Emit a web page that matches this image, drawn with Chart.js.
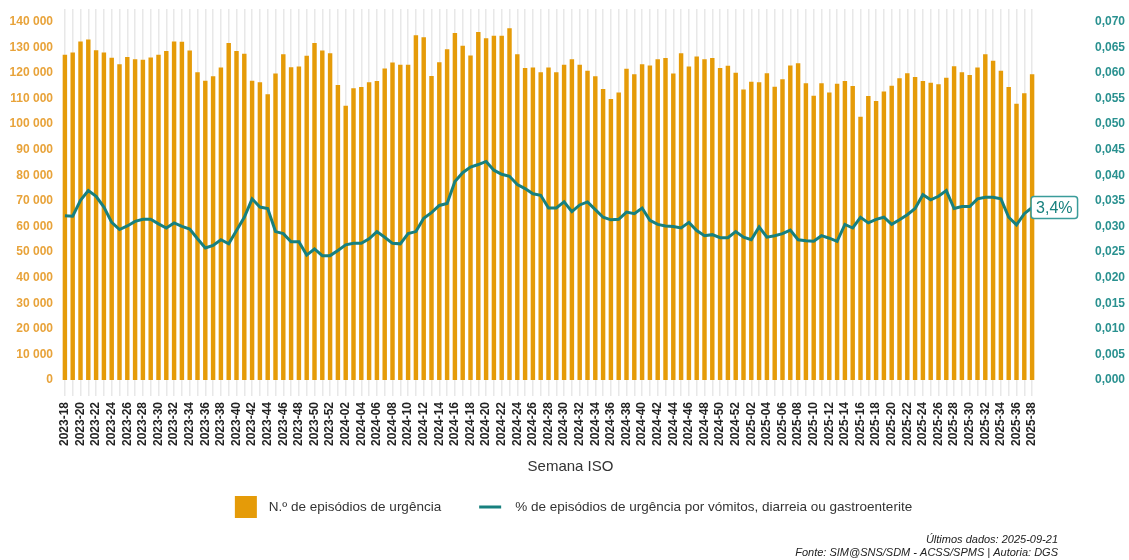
<!DOCTYPE html>
<html>
<head>
<meta charset="utf-8">
<script src="https://cdn.jsdelivr.net/npm/chart.js@4/dist/chart.umd.min.js"></script>
<style>
  body { margin: 0; background: #fff; overflow: hidden; }
  #wrap { width: 1129px; height: 560px; position: relative; }
</style>
</head>
<body>
<div id="wrap"><canvas id="chart"></canvas></div>
<script>
// semanas ISO: 2023-18 ... 2025-38
var startYear = 2023, startWeek = 18;
var weeksInYear = { 2023: 52, 2024: 52, 2025: 52 };
var endYear = 2025, endWeek = 38;

var semanas = [];
var y = startYear, w = startWeek;
while (y < endYear || (y === endYear && w <= endWeek)) {
  semanas.push(y + '-' + (w < 10 ? '0' + w : w));
  w++;
  if (w > weeksInYear[y]) { w = 1; y++; }
}

// N.º de episódios de urgência
var episodios = [
  127100, 128000, 132300, 133100, 128900, 128000, 125900, 123400, 126200, 125400,
  125200, 126000, 127100, 128600, 132300, 132200, 128800, 120300, 117000, 118700,
  122100, 131700, 128600, 127500, 117000, 116400, 111700, 119800, 127300, 122200,
  122500, 126700, 131700, 128800, 127700, 115300, 107200, 114000, 114500, 116400,
  116900, 121700, 124100, 123200, 123200, 134700, 134000, 118800, 124200, 129300,
  135600, 130600, 126800, 136000, 133600, 134500, 134500, 137500, 127300, 121900,
  122100, 120300, 122100, 120300, 123200, 125400, 123200, 120900, 118700, 113700,
  109800, 112400, 121600, 119500, 123400, 122900, 125400, 125800, 119800, 127700,
  122500, 126400, 125400, 125800, 121900, 122800, 120100, 113500, 116600, 116400,
  119900, 114600, 117500, 122900, 123800, 116000, 111100, 116000, 112400, 115800,
  116900, 114900, 102900, 111000, 109000, 112800, 115000, 117900, 119900, 118400,
  116900, 116200, 115600, 118100, 122600, 120300, 119200, 122100, 127300, 124800,
  120900, 114500, 108000, 112100, 119500
];

// % de episódios por vómitos, diarreia ou gastroenterite
var percentagem = [
  0.0321, 0.0320, 0.0351, 0.0370, 0.0359, 0.0338, 0.0308, 0.0294, 0.0301, 0.0310,
  0.0314, 0.0314, 0.0305, 0.0297, 0.0307, 0.0300, 0.0295, 0.0276, 0.0258, 0.0263,
  0.0274, 0.0266, 0.0292, 0.0318, 0.0354, 0.0338, 0.0335, 0.0290, 0.0286, 0.0270,
  0.0270, 0.0244, 0.0256, 0.0243, 0.0243, 0.0253, 0.0264, 0.0267, 0.0267, 0.0276,
  0.0290, 0.0279, 0.0267, 0.0266, 0.0286, 0.0290, 0.0316, 0.0327, 0.0341, 0.0345,
  0.0388, 0.0405, 0.0416, 0.0421, 0.0427, 0.0410, 0.0402, 0.0398, 0.0382, 0.0374,
  0.0364, 0.0361, 0.0336, 0.0336, 0.0348, 0.0329, 0.0342, 0.0348, 0.0333, 0.0318,
  0.0313, 0.0314, 0.0328, 0.0325, 0.0336, 0.0312, 0.0304, 0.0301, 0.0300, 0.0297,
  0.0308, 0.0292, 0.0282, 0.0284, 0.0278, 0.0278, 0.0290, 0.0279, 0.0274, 0.0299,
  0.0279, 0.0282, 0.0286, 0.0293, 0.0274, 0.0272, 0.0271, 0.0282, 0.0277, 0.0271,
  0.0304, 0.0297, 0.0318, 0.0307, 0.0314, 0.0318, 0.0304, 0.0313, 0.0323, 0.0335,
  0.0362, 0.0352, 0.0359, 0.0370, 0.0335, 0.0339, 0.0339, 0.0354, 0.0357, 0.0357,
  0.0354, 0.0318, 0.0303, 0.0325, 0.0337
];

var leftTicks = [0, 10000, 20000, 30000, 40000, 50000, 60000, 70000, 80000, 90000, 100000, 110000, 120000, 130000, 140000];
var rightTicks = [0, 0.005, 0.01, 0.015, 0.02, 0.025, 0.03, 0.035, 0.04, 0.045, 0.05, 0.055, 0.06, 0.065, 0.07];

var laranja = '#e59b08';
var verde = '#17807e';
var fonte = '"Liberation Sans", Arial, sans-serif';

Chart.defaults.font.family = fonte;

// título do eixo, legenda, rodapé e etiqueta do último valor
var extras = {
  id: 'extras',
  afterDatasetsDraw: function(chart) {
    var ctx = chart.ctx;
    var meta = chart.getDatasetMeta(0);
    var last = meta.data[meta.data.length - 1];
    var v = percentagem[percentagem.length - 1];
    var txt = (v * 100).toFixed(1).replace('.', ',') + '%';
    ctx.save();
    ctx.font = '16px ' + fonte;
    var tw = ctx.measureText(txt).width;
    var bx = last.x - 1, bw = tw + 10, bh = 22, by = last.y - bh / 2;
    ctx.beginPath();
    ctx.roundRect(bx, by, bw, bh, 3);
    ctx.fillStyle = '#fff';
    ctx.fill();
    ctx.lineWidth = 1.5;
    ctx.strokeStyle = '#3a9c9a';
    ctx.stroke();
    ctx.fillStyle = verde;
    ctx.textBaseline = 'middle';
    ctx.fillText(txt, bx + 5, by + bh / 2 + 1);
    ctx.restore();
  },
  afterDraw: function(chart) {
    var ctx = chart.ctx;
    var ds = chart.data.datasets;
    var meio = chart.width / 2 + 6;
    ctx.save();
    ctx.textBaseline = 'middle';

    ctx.font = '15px ' + fonte;
    ctx.fillStyle = '#333';
    ctx.textAlign = 'center';
    ctx.fillText('Semana ISO', meio, 467);

    ctx.textAlign = 'left';
    ctx.font = '13.5px ' + fonte;
    var t1 = ds[1].label, t2 = ds[0].label;
    var w1 = ctx.measureText(t1).width, w2 = ctx.measureText(t2).width;
    var total = 22 + 12 + w1 + 38 + 22 + 14 + w2;
    var x0 = meio + 3 - total / 2;
    var ly = 507;
    ctx.fillStyle = laranja;
    ctx.fillRect(x0, ly - 11, 22, 22);
    ctx.fillStyle = '#333';
    ctx.fillText(t1, x0 + 34, ly);
    var x1 = x0 + 34 + w1 + 38;
    ctx.strokeStyle = verde;
    ctx.lineWidth = 3;
    ctx.beginPath();
    ctx.moveTo(x1, ly);
    ctx.lineTo(x1 + 22, ly);
    ctx.stroke();
    ctx.fillText(t2, x1 + 36, ly);

    ctx.font = 'italic 11px ' + fonte;
    ctx.textAlign = 'right';
    ctx.fillStyle = '#222';
    ctx.fillText('Últimos dados: 2025-09-21', 1058, 540);
    ctx.fillText('Fonte: SIM@SNS/SDM - ACSS/SPMS | Autoria: DGS', 1058, 553);
    ctx.restore();
  }
};

var ctx = document.getElementById('chart');

var chart = new Chart(ctx, {
  data: {
    labels: semanas,
    datasets: [
      {
        type: 'line',
        label: '% de episódios de urgência por vómitos, diarreia ou gastroenterite',
        data: percentagem,
        yAxisID: 'y1',
        borderColor: verde,
        backgroundColor: verde,
        borderWidth: 3,
        pointRadius: 0,
        tension: 0,
        fill: false
      },
      {
        type: 'bar',
        label: 'N.º de episódios de urgência',
        data: episodios,
        yAxisID: 'y',
        backgroundColor: laranja,
        barPercentage: 0.57,
        categoryPercentage: 1
      }
    ]
  },
  options: {
    responsive: true,
    maintainAspectRatio: false,
    animation: false,
    layout: { padding: { top: 9, left: 4, right: 2, bottom: 108 } },
    plugins: {
      legend: { display: false },
      tooltip: { enabled: false }
    },
    scales: {
      x: {
        offset: true,
        grid: { offset: false, color: '#e8e8e8', lineWidth: 1.5, tickLength: 16, tickColor: '#e8e8e8' },
        border: { display: false },
        afterFit: function(s) { s.paddingLeft = 0; s.paddingRight = 0; },
        ticks: {
          autoSkip: false,
          maxRotation: 90,
          minRotation: 90,
          padding: 6,
          color: '#222',
          font: { size: 12, weight: 'bold' },
          callback: function(val, i) { return i % 2 === 0 ? semanas[i] : ''; }
        }
      },
      y: {
        position: 'left',
        min: 0,
        max: 145000,
        grid: { display: false, drawTicks: false },
        border: { display: false },
        afterBuildTicks: function(s) { s.ticks = leftTicks.map(function(v) { return { value: v }; }); },
        afterFit: function(s) { s.paddingTop = 0; s.paddingBottom = 0; s.width = 57; },
        ticks: {
          padding: 8,
          color: '#e8a33a',
          font: { size: 12, weight: 'bold' },
          callback: function(v) { return String(v).replace(/\B(?=(\d{3})+(?!\d))/g, ' '); }
        }
      },
      y1: {
        position: 'right',
        min: 0,
        max: 0.0725,
        grid: { display: false, drawTicks: false },
        border: { display: false },
        afterBuildTicks: function(s) { s.ticks = rightTicks.map(function(v) { return { value: v }; }); },
        afterFit: function(s) { s.paddingTop = 0; s.paddingBottom = 0; s.width = 91; },
        ticks: {
          padding: 59,
          color: '#2a9190',
          font: { size: 12, weight: 'bold' },
          callback: function(v) { return v.toFixed(3).replace('.', ','); }
        }
      }
    }
  },
  plugins: [extras]
});
</script>
</body>
</html>
